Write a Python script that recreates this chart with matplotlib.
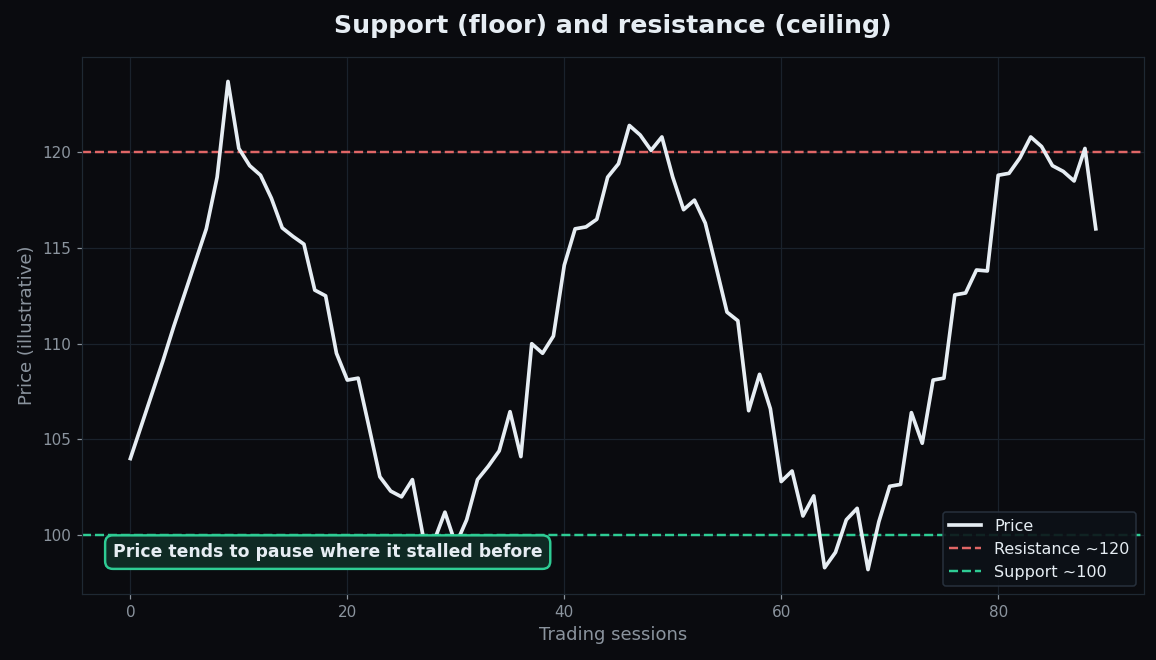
import numpy as np
import matplotlib.pyplot as plt

# price path, one value per session
sessions = np.arange(90)
price = [
    104.0, 105.7, 107.4, 109.1, 110.9, 112.6, 114.3, 116.0, 118.7, 123.7,
    120.2, 119.3, 118.8, 117.6, 116.05, 115.6, 115.2, 112.8, 112.5, 109.5,
    108.1, 108.2, 105.65, 103.05, 102.3, 102.0, 102.9, 99.9, 99.7, 101.2,
    99.5, 100.8, 102.9, 103.6, 104.4, 106.45, 104.1, 110.0, 109.5, 110.4,
    114.1, 116.0, 116.1, 116.5, 118.7, 119.4, 121.4, 120.9, 120.1, 120.8,
    118.7, 117.0, 117.5, 116.3, 114.0, 111.65, 111.2, 106.5, 108.4, 106.6,
    102.8, 103.35, 101.0, 102.05, 98.3, 99.1, 100.8, 101.4, 98.2, 100.7,
    102.55, 102.65, 106.4, 104.8, 108.1, 108.2, 112.55, 112.65, 113.85, 113.8,
    118.8, 118.9, 119.7, 120.8, 120.3, 119.3, 119.0, 118.5, 120.2, 116.0,
]
resistance = 120
support = 100

BG = "#0a0b0f"
FG = "#e6edf3"
MUTED = "#8b949e"
RED = "#e06666"
GREEN = "#2ecc94"

fig, ax = plt.subplots(figsize=(10.51, 6.0), dpi=110)
fig.patch.set_facecolor(BG)
ax.set_facecolor(BG)

ax.plot(sessions, price, color=FG, lw=2.4, label="Price", zorder=3)
ax.axhline(resistance, color=RED, ls="--", lw=1.6, label="Resistance ~120")
ax.axhline(support, color=GREEN, ls="--", lw=1.6, label="Support ~100")

ax.grid(True, color="#1a222c", lw=0.8)
ax.set_axisbelow(True)
for s in ax.spines.values():
    s.set_color("#1f2933")
ax.tick_params(colors=MUTED, labelsize=10)
ax.set_yticks([100, 105, 110, 115, 120])

ax.set_title("Support (floor) and resistance (ceiling)", color=FG,
             fontsize=16.5, fontweight="bold", pad=16)
ax.set_xlabel("Trading sessions", color=MUTED, fontsize=11.8)
ax.set_ylabel("Price (illustrative)", color=MUTED, fontsize=11.8)

ax.text(0.029, 0.078, "Price tends to pause where it stalled before",
        transform=ax.transAxes, va="center", ha="left", color=FG,
        fontsize=11.3, fontweight="bold", zorder=5,
        bbox=dict(boxstyle="round,pad=0.45", fc="#0f2a24", ec=GREEN, lw=1.6))

leg = ax.legend(loc="lower right", facecolor="#0d1117", edgecolor="#2a3441",
                labelcolor=FG, fontsize=10.5, framealpha=0.9)

fig.subplots_adjust(left=0.071, right=0.9896, top=0.9136, bottom=0.1)
fig.savefig("out.png", facecolor=BG)
